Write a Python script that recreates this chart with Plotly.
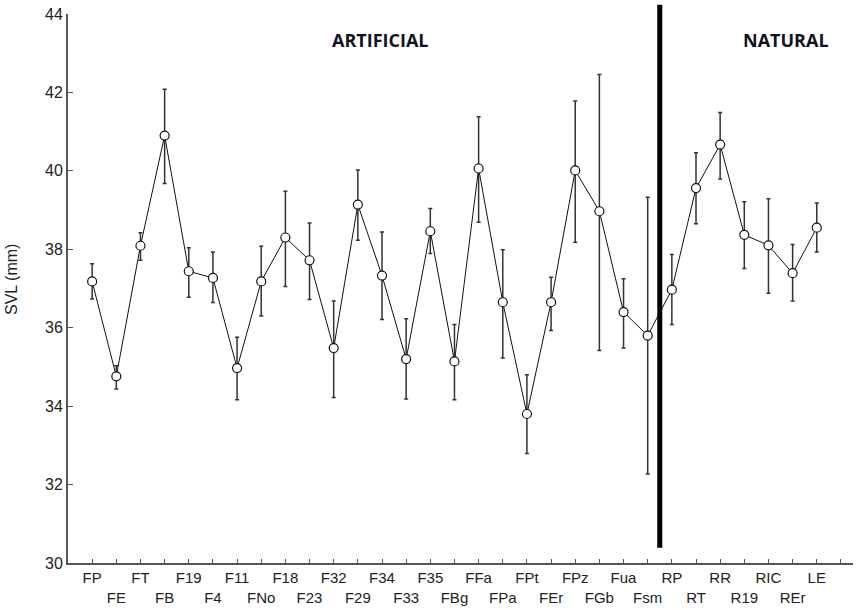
import plotly.graph_objects as go

sites = ["FP", "FE", "FT", "FB", "F19", "F4", "F11", "FNo", "F18", "F23", "F32", "F29",
         "F34", "F33", "F35", "FBg", "FFa", "FPa", "FPt", "FEr", "FPz", "FGb", "Fua", "Fsm",
         "RP", "RT", "RR", "R19", "RIC", "REr", "LE"]
svl_mean = [37.18, 34.76, 38.09, 40.90, 37.44, 37.27, 34.97, 37.18, 38.30, 37.72, 35.48, 39.14,
            37.33, 35.20, 38.46, 35.14, 40.06, 36.65, 33.80, 36.65, 40.01, 38.97, 36.40, 35.80,
            36.97, 39.56, 40.67, 38.37, 38.10, 37.39, 38.55]
svl_upper = [37.63, 35.03, 38.42, 42.08, 38.04, 37.93, 35.76, 38.08, 39.48, 38.67, 36.68, 40.02,
             38.44, 36.23, 39.04, 36.08, 41.38, 37.99, 34.80, 37.29, 41.78, 42.46, 37.25, 39.33,
             37.87, 40.46, 41.49, 39.21, 39.29, 38.12, 39.18]
svl_lower = [36.73, 34.44, 37.72, 39.68, 36.78, 36.64, 34.16, 36.30, 37.05, 36.72, 34.22, 38.23,
             36.21, 34.18, 37.89, 34.16, 38.69, 35.23, 32.79, 35.93, 38.18, 35.42, 35.48, 32.27,
             36.08, 38.65, 39.79, 37.51, 36.88, 36.68, 37.93]
n_artificial = 24
group_labels = ["ARTIFICIAL", "NATURAL"]

x = list(range(len(sites)))
err_plus = [u - m for u, m in zip(svl_upper, svl_mean)]
err_minus = [m - l for m, l in zip(svl_mean, svl_lower)]

xmin, xmax = -1, len(sites) + 0.5
tickvals = list(range(-1, len(sites) + 1))
ticktext = []
for v in tickvals:
    if 0 <= v < len(sites):
        ticktext.append(sites[v] if v % 2 == 0 else "<br>" + sites[v])
    else:
        ticktext.append("")

fig = go.Figure()
fig.add_trace(go.Scatter(
    x=x, y=svl_mean, mode="lines+markers",
    line=dict(color="#111111", width=1),
    marker=dict(symbol="circle", size=9, color="white", line=dict(color="#111111", width=1.2)),
    error_y=dict(type="data", symmetric=False, array=err_plus, arrayminus=err_minus,
                 color="#333333", thickness=1.5, width=2),
    showlegend=False,
))

sep = n_artificial - 0.5
sep_paper = (sep - xmin) / (xmax - xmin)
fig.add_shape(type="line", xref="paper", yref="paper", x0=sep_paper, x1=sep_paper,
              y0=0.028, y1=1.017, line=dict(color="black", width=5))

PW, PH = 785, 549
fig.add_annotation(xref="paper", yref="paper", x=(380 - 68) / PW, y=(563 - 40) / PH,
                   xanchor="center", yanchor="middle",
                   text="<b>" + group_labels[0] + "</b>", showarrow=False,
                   font=dict(family="Open Sans", size=18, color="#111122"))
fig.add_annotation(xref="paper", yref="paper", x=(786 - 68) / PW, y=(563 - 40) / PH,
                   xanchor="center", yanchor="middle",
                   text="<b>" + group_labels[1] + "</b>", showarrow=False,
                   font=dict(family="Open Sans", size=18, color="#111122"))
fig.add_annotation(xref="paper", yref="paper", x=-(68 - 12) / PW, y=(563 - 280) / PH,
                   xanchor="center", yanchor="middle",
                   text="SVL (mm)", showarrow=False, textangle=-90,
                   font=dict(family="Liberation Sans, Arial", size=16, color="#222222"))

fig.update_layout(
    width=858, height=610,
    margin=dict(l=68, r=5, t=14, b=47),
    paper_bgcolor="white", plot_bgcolor="white",
    font=dict(family="Liberation Sans, Arial", color="#222222"),
)
fig.update_xaxes(range=[xmin, xmax], tickmode="array", tickvals=tickvals, ticktext=ticktext,
                 showgrid=False, zeroline=False, showline=True, linecolor="#555555", linewidth=2,
                 ticks="inside", ticklen=4, tickcolor="#555555", tickwidth=1,
                 tickfont=dict(size=15, color="#222222"), tickangle=0)
fig.update_yaxes(range=[30, 44], dtick=2, showgrid=False, zeroline=False,
                 showline=True, linecolor="#555555", linewidth=2,
                 ticks="inside", ticklen=5, tickcolor="#555555", tickwidth=1,
                 tickfont=dict(size=16, color="#222222"))

fig.write_html("out.html")
